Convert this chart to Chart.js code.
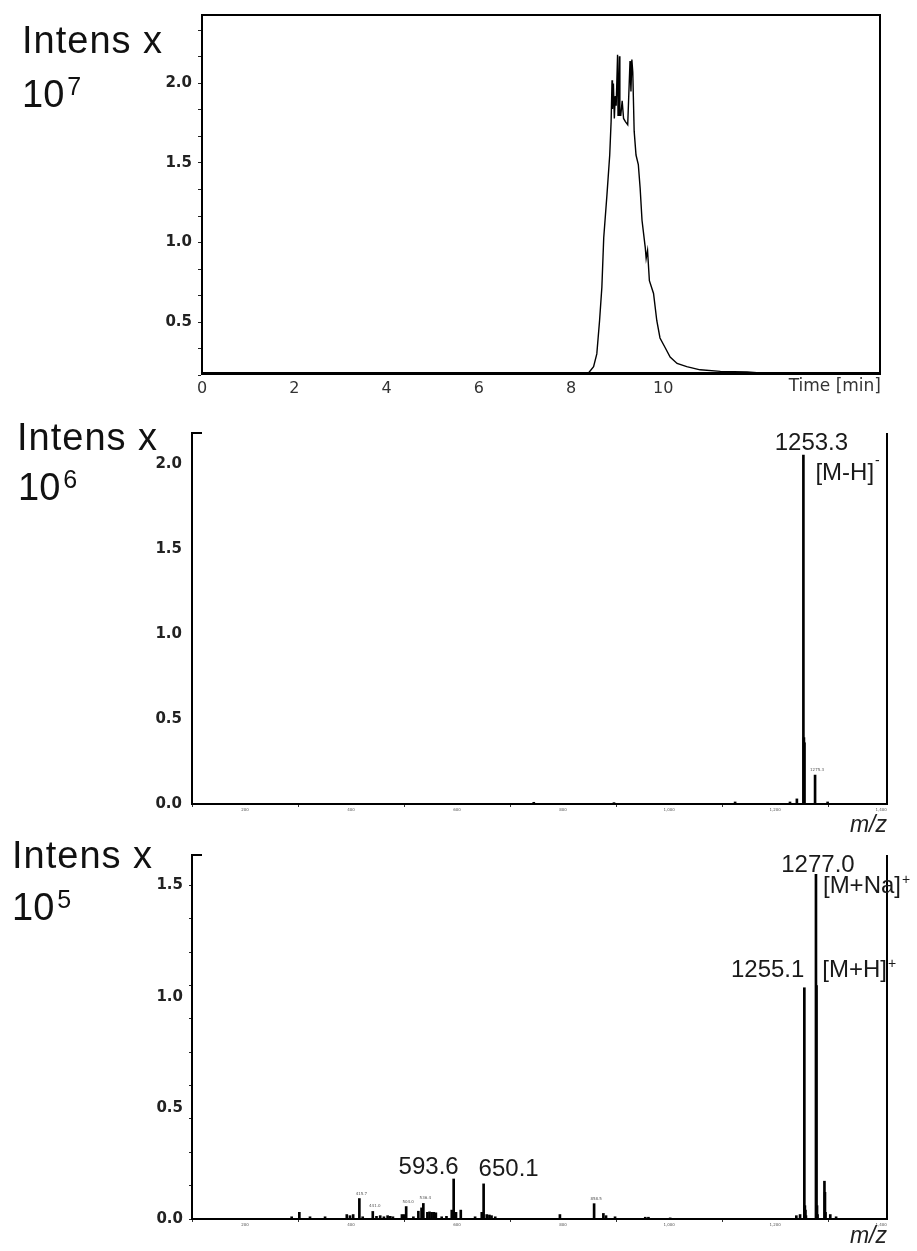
<!DOCTYPE html>
<html>
<head>
<meta charset="utf-8">
<script src="https://cdn.jsdelivr.net/npm/chart.js@4.4.1/dist/chart.umd.min.js"></script>
<style>
  html, body { margin: 0; padding: 0; background: #fff; }
  body { width: 917px; height: 1251px; position: relative; overflow: hidden; font-family: "Liberation Sans", Arial, sans-serif; }
  canvas { position: absolute; left: 0; }
  .intens { position: absolute; font-size: 38px; line-height: 38px; color: #111; white-space: nowrap; }
  .intens.top { letter-spacing: 1px; }
  .intens .sup { position: relative; top: -12px; font-size: 25px; margin-left: 3px; }
</style>
</head>
<body>
<canvas id="tic" width="917" height="400" style="top:0"></canvas>
<canvas id="neg" width="917" height="440" style="top:400px"></canvas>
<canvas id="pos" width="917" height="411" style="top:840px"></canvas>

<div class="intens top" style="left:22px;top:21px">Intens x</div>
<div class="intens" style="left:22px;top:75px">10<span class="sup">7</span></div>
<div class="intens top" style="left:17px;top:418px">Intens x</div>
<div class="intens" style="left:18px;top:468px">10<span class="sup">6</span></div>
<div class="intens top" style="left:12px;top:836px">Intens x</div>
<div class="intens" style="left:12px;top:888px">10<span class="sup">5</span></div>

<script>
// chromatogram (time in min, intensity x10^7)
const rtTimes = [0, 8.38, 8.49, 8.56, 8.62, 8.67, 8.71, 8.78, 8.84, 8.87, 8.89, 8.90, 8.92, 8.94, 8.96, 8.98,
  9.01, 9.02, 9.03, 9.05, 9.06, 9.08, 9.11, 9.14, 9.18, 9.23, 9.25, 9.28, 9.30, 9.32, 9.34, 9.37, 9.41,
  9.46, 9.50, 9.54, 9.61, 9.63, 9.66, 9.70, 9.79, 9.86, 9.93, 10.04, 10.15, 10.30, 10.51, 10.80, 11.24,
  11.82, 12.10, 14.7];
const rtIntens = [0.18, 0.18, 0.22, 0.30, 0.51, 0.72, 1.03, 1.30, 1.55, 1.76, 2.02, 1.84, 2.00, 1.78, 1.92, 1.86,
  2.18, 1.80, 1.84, 2.17, 1.80, 1.80, 1.89, 1.78, 1.76, 1.74, 1.90, 2.14, 1.95, 2.15, 2.07, 1.70, 1.55,
  1.49, 1.34, 1.14, 0.97, 0.90, 0.95, 0.76, 0.68, 0.51, 0.40, 0.34, 0.28, 0.24, 0.22, 0.20, 0.19,
  0.186, 0.18, 0.18];
const rtTicks = [0, 2, 4, 6, 8, 10, 12, 14];
const rtLastLabel = 10;
const ticYTicks = [0.1667, 0.3333, 0.5, 0.6667, 0.8333, 1.0, 1.1667, 1.3333, 1.5, 1.6667, 1.8333, 2.0, 2.1667, 2.3333];
const ticYLabels = [0.5, 1.0, 1.5, 2.0];

// negative mode spectrum (m/z, intensity x10^6)
const negMz = [744.7, 896, 1124.5, 1228, 1241, 1253.3, 1254.3, 1255.3, 1275.3, 1299];
const negIntens = [0.01, 0.008, 0.012, 0.012, 0.03, 2.05, 0.39, 0.36, 0.17, 0.012];
const negYTicks = [0, 0.5, 1.0, 1.5, 2.0];
const negTiny = [1275.3];

// positive mode spectrum (m/z, intensity x10^5)
const posMz = [288, 302.5, 322.6, 351, 392, 398, 404, 415.7, 422, 441, 448, 455, 462, 469, 474, 479,
  496, 500, 504, 517.6, 527, 533, 536.4, 544, 548, 552, 556, 560, 571, 580, 590, 593.6, 598, 607,
  634, 646.6, 650.1, 656, 661, 665, 672, 794, 858.5, 876, 881, 898, 955, 961, 1002,
  1240, 1247, 1255.1, 1256.1, 1257.1, 1258.1, 1277.0, 1278.0, 1279.0, 1280.0, 1293.0, 1294.0, 1295.0, 1304, 1315];
const posIntens = [0.01, 0.03, 0.01, 0.01, 0.02, 0.015, 0.02, 0.092, 0.01, 0.034, 0.012, 0.015, 0.01, 0.015, 0.012, 0.01,
  0.02, 0.02, 0.056, 0.01, 0.035, 0.05, 0.07, 0.03, 0.032, 0.03, 0.03, 0.028, 0.01, 0.012, 0.04, 0.18, 0.03, 0.04,
  0.01, 0.03, 0.158, 0.02, 0.018, 0.015, 0.01, 0.02, 0.069, 0.025, 0.015, 0.01, 0.008, 0.008, 0.005,
  0.015, 0.02, 1.04, 0.06, 0.04, 0.015, 1.55, 1.05, 0.06, 0.02, 0.17, 0.12, 0.03, 0.02, 0.01];
const posYTicks = [0, 0.15, 0.3, 0.45, 0.5, 0.6, 0.75, 0.9, 1.0, 1.05, 1.2, 1.35, 1.5];
const posYLabels = [0, 0.5, 1.0, 1.5];
const posTiny = [415.7, 441, 504, 536.4, 858.5];

const mzTicks = [200, 400, 600, 800, 1000, 1200, 1400];

const BIG_FONT = '24px "Liberation Sans", Arial, sans-serif';
const SUP_FONT = '14px "Liberation Sans", Arial, sans-serif';
const AXIS_FONT = { family: 'DejaVu Sans', size: 15, weight: 'bold' };

function pts(xs, ys) {
  return xs.map((x, i) => ({ x: x, y: ys[i] }));
}
function fixTicks(vals) {
  return (s) => { s.ticks = vals.map((v) => ({ value: v })); };
}
function isIn(v, list) {
  return list.some((a) => Math.abs(a - v) < 1e-6);
}
function peakTop(chart, mzs, ints, mz) {
  const i = mzs.findIndex((m) => Math.abs(m - mz) < 1e-6);
  return { x: chart.scales.x.getPixelForValue(mz), y: chart.scales.y.getPixelForValue(ints[i]) };
}

function drawLabel(ctx, text, sup, x, y, align, raise) {
  ctx.font = BIG_FONT;
  const w = ctx.measureText(text).width;
  ctx.font = SUP_FONT;
  const ws = sup ? ctx.measureText(sup).width + 1 : 0;
  let left = x - (w + ws) / 2;
  if (align === 'left') left = x;
  if (align === 'right') left = x - w - ws;
  ctx.textAlign = 'left';
  ctx.textBaseline = 'alphabetic';
  ctx.font = BIG_FONT;
  ctx.fillText(text, left, y);
  if (sup) {
    ctx.font = SUP_FONT;
    ctx.fillText(sup, left + w + 1, y - raise);
  }
}

// frame + "Time [min]" for the chromatogram
const ticDecor = {
  id: 'ticDecor',
  afterDraw(chart) {
    const { ctx, chartArea: a } = chart;
    ctx.save();
    ctx.strokeStyle = '#000';
    ctx.lineWidth = 2;
    ctx.beginPath();
    ctx.moveTo(a.left, a.top);
    ctx.lineTo(a.right, a.top);
    ctx.lineTo(a.right, a.bottom);
    ctx.stroke();
    ctx.fillStyle = '#333';
    ctx.font = '17px "DejaVu Sans"';
    ctx.textAlign = 'right';
    ctx.textBaseline = 'top';
    ctx.fillText('Time [min]', a.right + 1, a.bottom + 5);
    ctx.restore();
  }
};

function specDecor(mzs, ints, tiny, labels, mzDy) {
  return {
    id: 'specDecor',
    afterDraw(chart) {
      const { ctx, chartArea: a } = chart;
      ctx.save();
      ctx.strokeStyle = '#000';
      ctx.lineWidth = 2;
      ctx.beginPath();
      ctx.moveTo(a.left - 1, a.top);
      ctx.lineTo(a.left + 10, a.top);
      ctx.moveTo(a.right, a.top);
      ctx.lineTo(a.right, a.bottom);
      ctx.stroke();

      ctx.fillStyle = '#555';
      ctx.font = '4px "DejaVu Sans"';
      ctx.textAlign = 'center';
      ctx.textBaseline = 'bottom';
      tiny.forEach((m) => {
        const p = peakTop(chart, mzs, ints, m);
        ctx.fillText(m.toFixed(1), p.x + 2, p.y - 3);
      });

      ctx.fillStyle = '#1a1a1a';
      labels.forEach((l) => {
        const p = peakTop(chart, mzs, ints, l.mz);
        drawLabel(ctx, l.text, l.sup, p.x + l.dx, p.y + l.dy, l.align, l.raise || 0);
      });

      ctx.fillStyle = '#222';
      ctx.font = 'italic 23px "Liberation Sans", Arial, sans-serif';
      ctx.textAlign = 'right';
      ctx.textBaseline = 'middle';
      ctx.fillText('m/z', a.right, a.bottom + mzDy);
      ctx.restore();
    }
  };
}

const baseOpts = {
  responsive: false,
  animation: false,
  events: [],
  plugins: { legend: { display: false }, tooltip: { enabled: false } }
};

// chromatogram
new Chart(document.getElementById('tic'), {
  type: 'line',
  data: {
    datasets: [{
      data: pts(rtTimes, rtIntens),
      borderColor: '#000',
      borderWidth: 1.4,
      pointRadius: 0,
      tension: 0,
      fill: false
    }]
  },
  options: {
    ...baseOpts,
    layout: { padding: { left: 0, right: 37, top: 13, bottom: 0 } },
    scales: {
      x: {
        type: 'linear', min: 0, max: 14.7,
        afterBuildTicks: fixTicks(rtTicks),
        afterFit: (s) => { s.height = 27; },
        grid: { drawOnChartArea: false, drawTicks: false },
        border: { color: '#000', width: 3 },
        ticks: {
          autoSkip: false, maxRotation: 0, padding: 6, color: '#333',
          font: { family: 'DejaVu Sans', size: 16 },
          callback: (v) => (v <= rtLastLabel ? String(v) : '')
        }
      },
      y: {
        min: 0.18, max: 2.43,
        afterBuildTicks: fixTicks(ticYTicks),
        afterFit: (s) => { s.width = 202; },
        grid: { drawOnChartArea: false, drawTicks: true, tickLength: 4, color: '#222' },
        border: { color: '#000', width: 2 },
        ticks: {
          autoSkip: false, padding: 6, color: '#222', font: AXIS_FONT,
          callback: (v) => (isIn(v, ticYLabels) ? v.toFixed(1) : '')
        }
      }
    }
  },
  plugins: [ticDecor]
});

function specChart(id, mzs, ints, yMax, yTicks, yLabels, tickMarks, xHeight, padTop, decor) {
  return new Chart(document.getElementById(id), {
    type: 'bar',
    data: {
      datasets: [{
        data: pts(mzs, ints),
        backgroundColor: '#000',
        barThickness: 2,
        borderWidth: 0
      }]
    },
    options: {
      ...baseOpts,
      layout: { padding: { left: 0, right: 30, top: padTop, bottom: 0 } },
      scales: {
        x: {
          type: 'linear', min: 100, max: 1411, offset: false,
          afterBuildTicks: fixTicks(mzTicks),
          afterFit: (s) => { s.height = xHeight; },
          grid: { drawOnChartArea: false, drawTicks: true, tickLength: 3, color: '#333' },
          border: { color: '#000', width: 2 },
          ticks: {
            autoSkip: false, maxRotation: 0, padding: 1, color: '#555',
            font: { family: 'DejaVu Sans', size: 4 }
          }
        },
        y: {
          min: 0, max: yMax,
          afterBuildTicks: fixTicks(yTicks),
          afterFit: (s) => { s.width = 192; },
          grid: {
            drawOnChartArea: false,
            drawTicks: true,
            tickLength: tickMarks ? 3 : 0,
            tickColor: (c) => (tickMarks && c.tick && !(isIn(c.tick.value, yLabels) && c.tick.value !== 0 && c.tick.value !== 1.5) ? '#222' : 'rgba(0,0,0,0)')
          },
          border: { color: '#000', width: 2 },
          ticks: {
            autoSkip: false, padding: tickMarks ? 6 : 10, color: '#222', font: AXIS_FONT,
            callback: (v) => (isIn(v, yLabels) ? v.toFixed(1) : '')
          }
        }
      }
    },
    plugins: [decor]
  });
}

specChart('neg', negMz, negIntens, 2.18, negYTicks, negYTicks, false, 36, 33,
  specDecor(negMz, negIntens, negTiny, [
    { mz: 1253.3, text: '1253.3', sup: '', dx: 8, dy: -5, align: 'center' },
    { mz: 1253.3, text: '[M-H]', sup: '-', dx: 12, dy: 25, align: 'left', raise: 15 }
  ], 22));

specChart('pos', posMz, posIntens, 1.637, posYTicks, posYLabels, true, 32, 9,
  specDecor(posMz, posIntens, posTiny, [
    { mz: 1277.0, text: '1277.0', sup: '', dx: 2, dy: -2, align: 'center' },
    { mz: 1277.0, text: '[M+Na]', sup: '+', dx: 7, dy: 19, align: 'left', raise: 9 },
    { mz: 1255.1, text: '1255.1', sup: '', dx: 0, dy: -11, align: 'right' },
    { mz: 1255.1, text: '[M+H]', sup: '+', dx: 18, dy: -11, align: 'left', raise: 9 },
    { mz: 593.6, text: '593.6', sup: '', dx: 5, dy: -5, align: 'right' },
    { mz: 650.1, text: '650.1', sup: '', dx: -5, dy: -8, align: 'left' }
  ], 18));
</script>
</body>
</html>
